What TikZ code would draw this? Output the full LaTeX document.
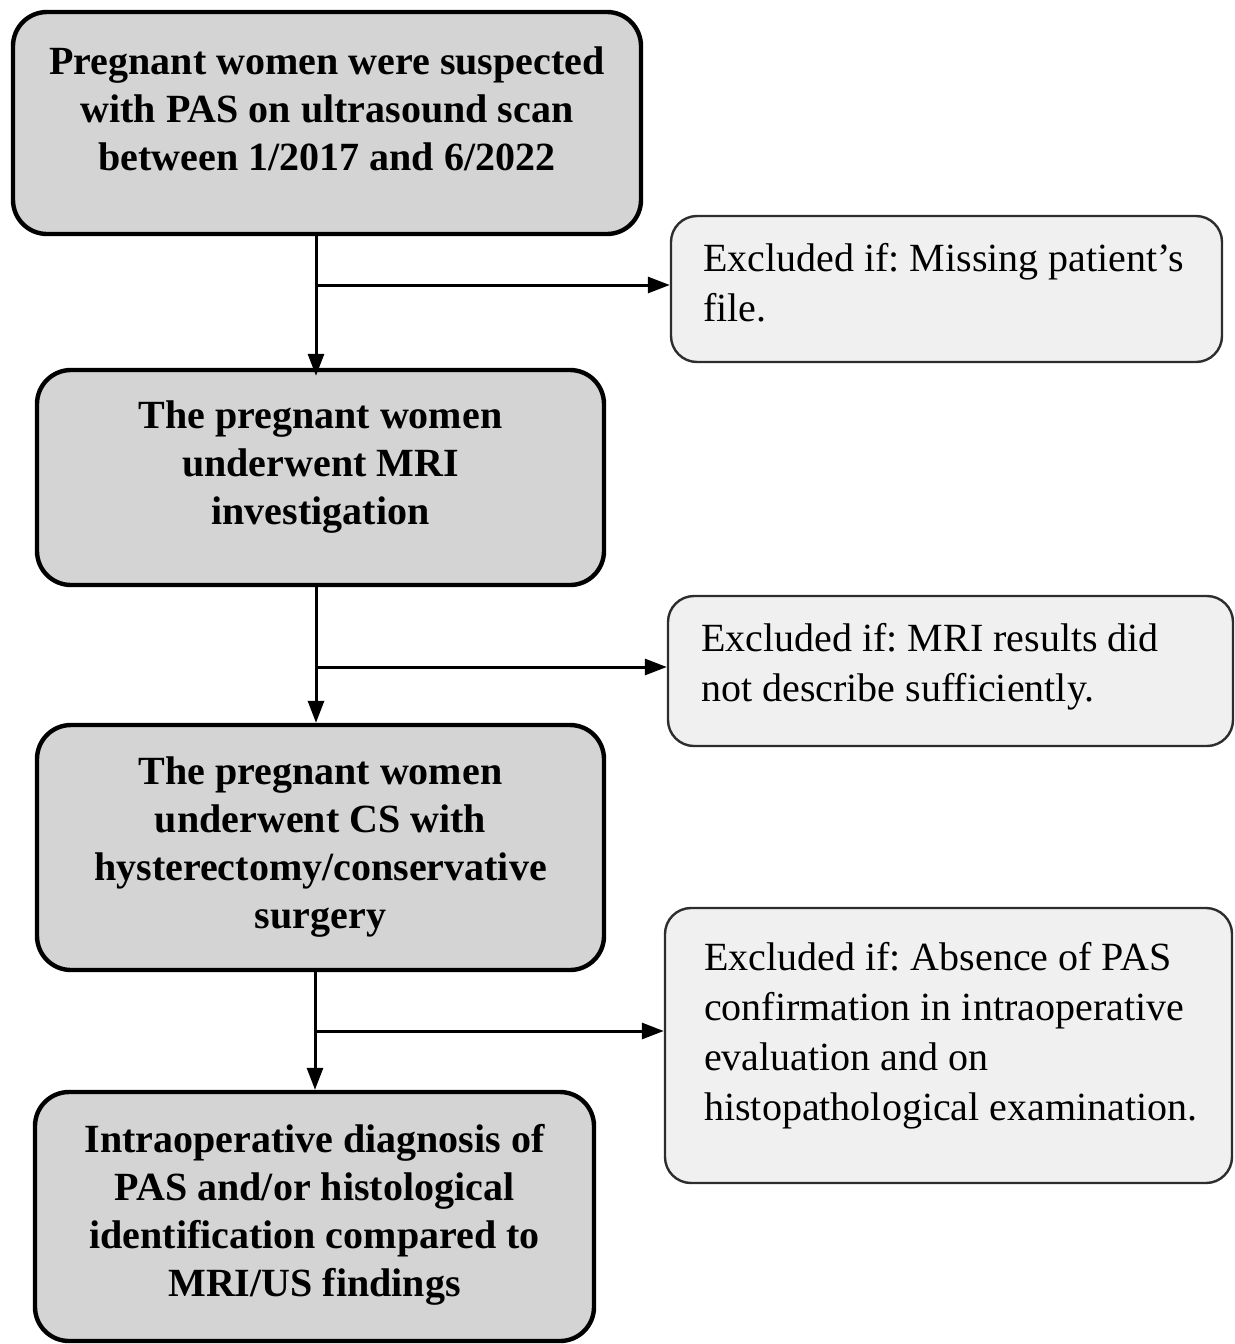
\documentclass[tikz,border=0pt]{standalone}
\usepackage{fontspec}
\setmainfont{Liberation Serif}
\frenchspacing
\usetikzlibrary{arrows.meta}
\definecolor{mainfill}{RGB}{212,212,212}
\definecolor{exfill}{RGB}{240,240,240}
\definecolor{exline}{RGB}{45,45,45}
\begin{document}
\begin{tikzpicture}[x=0.5pt,y=-0.5pt,
  mainbox/.style={draw=black, line width=2.2pt, fill=mainfill, rounded corners=17pt, inner sep=0pt},
  maintext/.style={align=center, inner sep=0pt, font=\fontsize{20}{24}\selectfont\bfseries},
  exbox/.style={draw=exline, line width=1.2pt, fill=exfill, rounded corners=13pt, inner sep=0pt},
  extext/.style={anchor=west, align=left, inner sep=0pt, font=\fontsize{20}{25}\selectfont},
  conn/.style={line width=1.5pt, -{Triangle[length=11pt,width=8pt]}}]
\useasboundingbox (0,0) rectangle (1235,1344);
\begin{scope}
\clip (0,0) rectangle (1235,1344);
\node[mainbox, minimum width=314pt, minimum height=111pt] (b1) at (327,123) {};
\node[mainbox, minimum width=283.5pt, minimum height=107.5pt] (b2) at (320.5,477.5) {};
\node[mainbox, minimum width=283.5pt, minimum height=122.5pt] (b3) at (320.5,847.5) {};
\node[mainbox, minimum width=279.5pt, minimum height=124.5pt] (b4) at (314.5,1216.5) {};
\node[maintext] (b1t) at ([yshift=7pt]b1.center)
  {Pregnant women were suspected\\with PAS on ultrasound scan\\between 1/2017 and 6/2022};
\node[maintext] (b2t) at ([yshift=5pt]b2.center)
  {The pregnant women\\underwent MRI\\investigation};
\node[maintext] (b3t) at ([yshift=0pt]b3.center)
  {The pregnant women\\underwent CS with\\hysterectomy/conservative\\surgery};
\node[maintext] (b4t) at ([yshift=1pt]b4.center)
  {Intraoperative diagnosis of\\PAS and/or histological\\identification compared to\\MRI/US findings};
\node[exbox, minimum width=275.5pt, minimum height=73pt] (e1) at (946.5,289) {};
\node[exbox, minimum width=282.5pt, minimum height=75pt] (e2) at (950.5,671) {};
\node[exbox, minimum width=283.5pt, minimum height=137.5pt] (e3) at (948.5,1045.5) {};
\node[extext] (t1) at ([xshift=16.5pt,yshift=3pt]e1.west)
  {Excluded if: Missing patient’s\\file.};
\node[extext] (t2) at ([xshift=17pt,yshift=2pt]e2.west)
  {Excluded if: MRI results did\\not describe sufficiently.};
\node[extext] (t3) at ([xshift=20pt,yshift=5pt]e3.west)
  {Excluded if: Absence of PAS\\confirmation in intraoperative\\evaluation and on\\histopathological examination.};
\coordinate (j1) at (316,285);
\coordinate (j2) at (316,667);
\coordinate (j3) at (315,1031);
\draw[conn] (j1 |- b1.south) -- ([yshift=-4pt]j1 |- b2.north);
\draw[conn] (j1) -- (j1 -| e1.west);
\draw[conn] (j2 |- b2.south) -- (j2 |- b3.north);
\draw[conn] (j2) -- (j2 -| e2.west);
\draw[conn] (j3 |- b3.south) -- (j3 |- b4.north);
\draw[conn] (j3) -- (j3 -| e3.west);
\end{scope}
\end{tikzpicture}
\end{document}
